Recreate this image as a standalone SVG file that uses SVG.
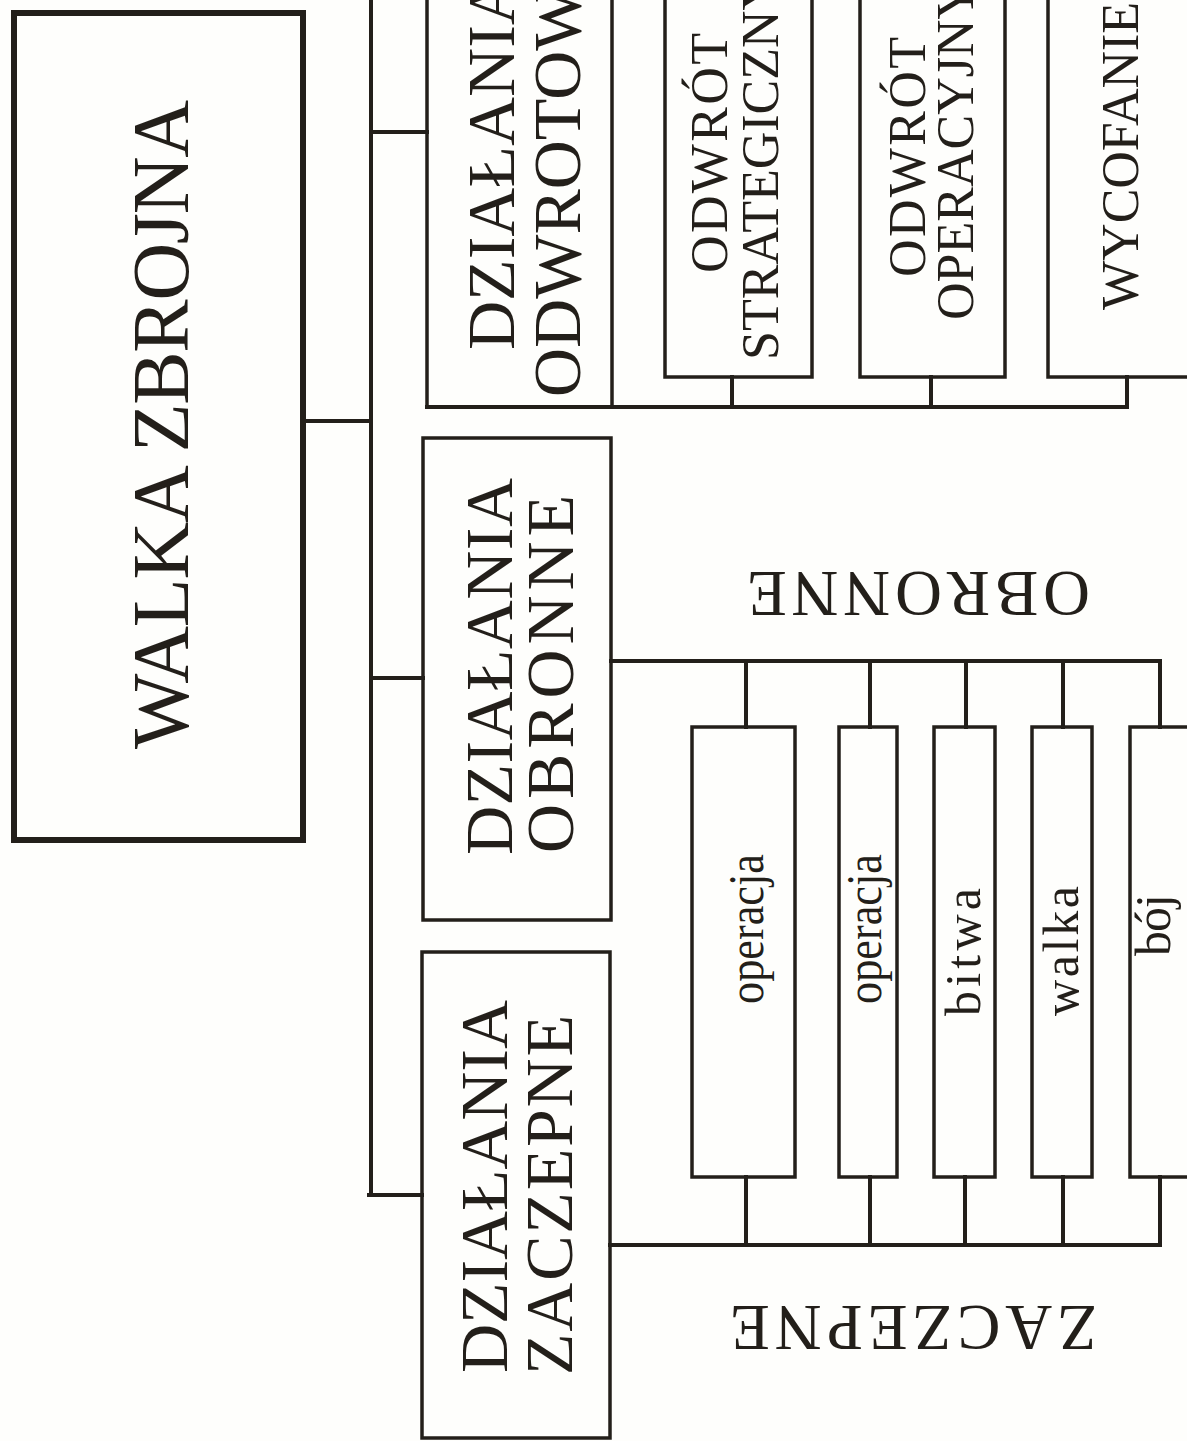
<svg xmlns="http://www.w3.org/2000/svg" width="1187" height="1441" viewBox="0 0 1187 1441">
<style>
.bg{fill:#fefefc}
.box{fill:none;stroke:#231f1a;stroke-width:3.5}
.main{fill:none;stroke:#231f1a;stroke-width:6}
.ln{fill:none;stroke:#231f1a;stroke-width:4;stroke-linecap:square}
text{font-family:"Liberation Serif","Times New Roman",serif;fill:#231f1a}
.t80{font-size:80px}
.t68{font-size:68px}
.t65{font-size:65px}
.t52{font-size:52px}
.t50{font-size:50px}
</style>
<rect class="bg" x="0" y="0" width="1187" height="1441"/>

<g id="connectors">
  <path class="ln" d="M371 0 V1195"/>
  <path class="ln" d="M305 421 H371"/>
  <path class="ln" d="M371 132 H427"/>
  <path class="ln" d="M371 678 H423"/>
  <path class="ln" d="M369 1195 H422"/>
  <path class="ln" d="M427 407 H1127"/>
  <path class="ln" d="M732 377 V407"/>
  <path class="ln" d="M931 377 V407"/>
  <path class="ln" d="M1127 377 V407"/>
  <path class="ln" d="M611 661 H1160"/>
  <path class="ln" d="M746 661 V727"/>
  <path class="ln" d="M870 661 V727"/>
  <path class="ln" d="M966 661 V727"/>
  <path class="ln" d="M1063 661 V727"/>
  <path class="ln" d="M1160 661 V727"/>
  <path class="ln" d="M610 1245 H1160"/>
  <path class="ln" d="M746 1177 V1245"/>
  <path class="ln" d="M870 1177 V1245"/>
  <path class="ln" d="M965 1177 V1245"/>
  <path class="ln" d="M1063 1177 V1245"/>
  <path class="ln" d="M1160 1177 V1245"/>
</g>

<g id="walka-zbrojna">
  <rect class="main" x="14" y="13" width="289" height="827"/>
  <text class="t80" transform="translate(188,424.5) rotate(-90)" text-anchor="middle" textLength="649" lengthAdjust="spacing">WALKA ZBROJNA</text>
</g>

<g id="dzialania-odwrotowe">
  <rect class="box" x="427" y="-20" width="185" height="427"/>
  <text class="t68" transform="translate(514,350) rotate(-90)">DZIAŁANIA</text>
  <text class="t68" transform="translate(580,397) rotate(-90)">ODWROTOWE</text>
</g>

<g id="dzialania-obronne">
  <rect class="box" x="423" y="438" width="188" height="482"/>
  <text class="t68" transform="translate(512,855) rotate(-90)" textLength="377" lengthAdjust="spacing">DZIAŁANIA</text>
  <text class="t68" transform="translate(573,853) rotate(-90)" textLength="358" lengthAdjust="spacing">OBRONNE</text>
</g>

<g id="dzialania-zaczepne">
  <rect class="box" x="422" y="952" width="188" height="486"/>
  <text class="t68" transform="translate(507,1373) rotate(-90)" textLength="373" lengthAdjust="spacing">DZIAŁANIA</text>
  <text class="t68" transform="translate(572,1375) rotate(-90)" textLength="360" lengthAdjust="spacing">ZACZEPNE</text>
</g>

<g id="odwrot-strategiczny">
  <rect class="box" x="665" y="-20" width="147" height="397"/>
  <text class="t52" transform="translate(727,273) rotate(-90)" textLength="240" lengthAdjust="spacing">ODWRÓT</text>
  <text class="t52" transform="translate(778,360) rotate(-90)">STRATEGICZNY</text>
</g>

<g id="odwrot-operacyjny">
  <rect class="box" x="860" y="-20" width="145" height="397"/>
  <text class="t52" transform="translate(925,277) rotate(-90)" textLength="240" lengthAdjust="spacing">ODWRÓT</text>
  <text class="t52" transform="translate(973,320) rotate(-90)">OPERACYJNY</text>
</g>

<g id="wycofanie">
  <rect class="box" x="1048" y="-20" width="160" height="397"/>
  <text class="t52" transform="translate(1138,310) rotate(-90)">WYCOFANIE</text>
</g>

<g id="operacja-1">
  <rect class="box" x="692" y="727" width="103" height="450"/>
  <text class="t50" transform="translate(763,929) rotate(-90)" text-anchor="middle" textLength="150" lengthAdjust="spacingAndGlyphs">operacja</text>
</g>
<g id="operacja-2">
  <rect class="box" x="839" y="727" width="58" height="450"/>
  <text class="t50" transform="translate(881,929) rotate(-90)" text-anchor="middle" textLength="150" lengthAdjust="spacingAndGlyphs">operacja</text>
</g>
<g id="bitwa">
  <rect class="box" x="934" y="727" width="61" height="450"/>
  <text class="t50" transform="translate(980,952) rotate(-90)" text-anchor="middle" textLength="128" lengthAdjust="spacing">bitwa</text>
</g>
<g id="walka">
  <rect class="box" x="1032" y="727" width="60" height="450"/>
  <text class="t50" transform="translate(1078,951) rotate(-90)" text-anchor="middle" textLength="130" lengthAdjust="spacing">walka</text>
</g>
<g id="boj">
  <rect class="box" x="1130" y="727" width="80" height="450"/>
  <text class="t50" transform="translate(1170,925) rotate(-90)" text-anchor="middle" textLength="62" lengthAdjust="spacing">bój</text>
</g>

<g id="label-obronne">
  <text class="t65" transform="translate(918.5,593.5) rotate(180)" x="0" y="21.5" text-anchor="middle" textLength="343" lengthAdjust="spacing">OBRONNE</text>
</g>
<g id="label-zaczepne">
  <text class="t65" transform="translate(913.5,1327.5) rotate(180)" x="0" y="22" text-anchor="middle" textLength="367" lengthAdjust="spacing">ZACZEPNE</text>
</g>
</svg>
